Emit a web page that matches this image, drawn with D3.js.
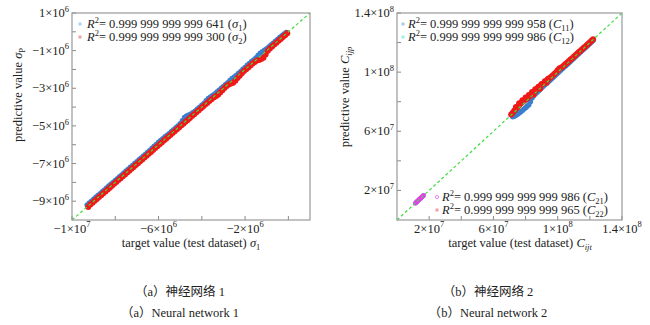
<!DOCTYPE html>
<html><head><meta charset="utf-8">
<script src="https://cdn.jsdelivr.net/npm/d3@7"></script>
<style>body{margin:0;background:#fff}svg{display:block}</style>
</head><body>
<script>
// ---------- DATA (all values in units of 1e6) ----------
const sigma1Target = [-9.3,-9.2,-9.1,-9.0,-8.9,-8.8,-8.7,-8.6,-8.5,-8.4,-8.3,-8.2,-8.1,-8.0,-7.9,-7.8,-7.7,-7.6,-7.5,-7.4,-7.3,-7.2,-7.1,-7.0,-6.9,-6.8,-6.7,-6.6,-6.5,-6.4,-6.3,-6.2,-6.1,-6.0,-5.9,-5.8,-5.7,-5.6,-5.5,-5.4,-5.3,-5.2,-5.1,-5.0,-4.9,-4.8,-4.7,-4.6,-4.5,-4.4,-4.3,-4.2,-4.1,-4.0,-3.9,-3.8,-3.7,-3.6,-3.5,-3.4,-3.3,-3.2,-3.1,-3.0,-2.9,-2.8,-2.7,-2.6,-2.5,-2.4,-2.3,-2.2,-2.1,-2.0,-1.9,-1.8,-1.7,-1.6,-1.5,-1.4,-1.3,-1.2,-1.1,-1.0,-0.9,-0.8,-0.7,-0.6,-0.5,-0.4,-0.3,-0.2,-0.1];
const sigma1Pred   = [-9.2,-9.1,-9.0,-8.9,-8.79,-8.7,-8.6,-8.5,-8.4,-8.3,-8.19,-8.1,-8.0,-7.9,-7.8,-7.7,-7.61,-7.5,-7.4,-7.3,-7.2,-7.1,-7.0,-6.9,-6.8,-6.7,-6.6,-6.5,-6.4,-6.3,-6.19,-6.08,-5.98,-5.87,-5.77,-5.68,-5.58,-5.5,-5.4,-5.3,-5.2,-5.1,-5.0,-4.88,-4.72,-4.55,-4.47,-4.42,-4.36,-4.29,-4.2,-4.1,-4.0,-3.9,-3.8,-3.66,-3.54,-3.46,-3.38,-3.3,-3.2,-3.1,-3.0,-2.9,-2.8,-2.7,-2.58,-2.48,-2.4,-2.3,-2.2,-2.1,-1.99,-1.89,-1.78,-1.68,-1.58,-1.49,-1.39,-1.26,-1.14,-1.06,-0.98,-0.9,-0.8,-0.7,-0.6,-0.5,-0.4,-0.3,-0.2,-0.11,-0.04];
const sigma2Target = [-9.25,-9.15,-9.05,-8.95,-8.85,-8.75,-8.65,-8.55,-8.45,-8.35,-8.25,-8.15,-8.05,-7.95,-7.85,-7.75,-7.65,-7.55,-7.45,-7.35,-7.25,-7.15,-7.05,-6.95,-6.85,-6.75,-6.65,-6.55,-6.45,-6.35,-6.25,-6.15,-6.05,-5.95,-5.85,-5.75,-5.65,-5.55,-5.45,-5.35,-5.25,-5.15,-5.05,-4.95,-4.85,-4.75,-4.65,-4.55,-4.45,-4.35,-4.25,-4.15,-4.05,-3.95,-3.85,-3.75,-3.65,-3.55,-3.45,-3.35,-3.25,-3.15,-3.05,-2.95,-2.85,-2.75,-2.65,-2.55,-2.45,-2.35,-2.25,-2.15,-2.05,-1.95,-1.85,-1.75,-1.65,-1.55,-1.45,-1.35,-1.25,-1.15,-1.05,-0.95,-0.85,-0.75,-0.65,-0.55,-0.45,-0.35,-0.25,-0.15,-0.05];
const sigma2Pred   = [-9.31,-9.18,-9.08,-8.98,-8.88,-8.78,-8.68,-8.58,-8.48,-8.38,-8.28,-8.18,-8.08,-7.98,-7.88,-7.78,-7.68,-7.58,-7.48,-7.38,-7.28,-7.18,-7.08,-6.98,-6.88,-6.78,-6.68,-6.58,-6.48,-6.38,-6.28,-6.18,-6.08,-5.98,-5.88,-5.78,-5.68,-5.58,-5.48,-5.38,-5.28,-5.18,-5.08,-4.98,-4.88,-4.78,-4.68,-4.58,-4.48,-4.38,-4.28,-4.18,-4.08,-3.98,-3.88,-3.78,-3.68,-3.58,-3.49,-3.42,-3.34,-3.23,-3.1,-2.98,-2.88,-2.8,-2.74,-2.7,-2.6,-2.46,-2.33,-2.2,-2.08,-1.99,-1.89,-1.79,-1.69,-1.6,-1.53,-1.5,-1.44,-1.38,-1.2,-1.0,-0.88,-0.78,-0.68,-0.58,-0.48,-0.38,-0.28,-0.18,-0.08];

const c11Target = [72,73,74,75,76,77,78,79,80,81,82,83,84,85,86,87,88,89,90,91,92,93,94,95,96,97,98,99,100,101,102,103,104,105,106,107,108,109,110,111,112,113,114,115,116,117,118,119,120,121,122];
const c11Pred   = [69.8,70.2,70.8,71.6,72.4,73.2,74,75,76,77,78,80,82.5,84,85.2,86.3,87.3,88.4,89.4,90.4,91.4,92.4,93.4,94.4,95.4,96.4,97.4,98.4,99.4,100.4,101.4,102.4,103.4,104.4,105.4,106.4,107.4,108.4,109.4,110.4,111.4,112.4,113.4,114.4,115.4,116.4,117.4,118.4,119.4,120.4,121.4];
const c12Target = [11.5,12,12.5,13,13.5,14,14.5,15,15.5,16,16.5];
const c12Pred   = [11.4,12,12.5,13,13.4,14,14.5,15,15.4,16,16.5];
const c21Target = [11.5,12,12.5,13,13.5,14,14.5,15,15.5,16,16.5];
const c21Pred   = [11.3,11.9,12.4,13,13.5,14.1,14.5,15.1,15.5,16,16.6];
const c22Target = [71,72,73,74,75,76,77,78,79,80,81,82,83,84,85,86,87,88,89,90,91,92,93,94,95,96,97,98,99,100,101,102,103,104,105,106,107,108,109,110,111,112,113,114,115,116,117,118,119,120,121,122,74,76,78,80,82,84,86,88,90,92,94,85,89,93];
const c22Pred   = [71.3,72.6,74,75.2,76.3,77.6,78.8,79.8,80.6,81.5,82.4,83.3,84.2,85.3,86.4,87.5,88.6,89.6,90.6,91.5,92.4,93.3,94.2,95.1,96,96.9,97.9,98.9,99.9,101.2,102.4,103,103.6,104.6,105.6,106.5,107.5,108.5,109.4,110.4,111.4,112.4,113.4,114.3,115.3,116.3,117.2,118.2,119.2,120.2,121.2,122.2,76.5,79,81,82.8,84.6,86.6,88.5,90.2,92,93.8,95.6,84.8,88.8,92.8];

// ticks (units of 1e6)
const leftXMajor = [-10,-6,-2];
const leftXLabels = [["−1","7"],["−6","6"],["−2","6"]];
const leftXMinor = [-8,-4,0];
const leftYMajor = [1,-1,-3,-5,-7,-9];
const leftYLabels = [["1","6"],["−1","6"],["−3","6"],["−5","6"],["−7","6"],["−9","6"]];
const leftYMinor = [0,-2,-4,-6,-8];
const rightMajor = [20,60,100,140];
const rightLabels = [["2","7"],["6","7"],["1","8"],["1.4","8"]];
const rightMinor = [40,80,120];

const legendLeft = [["641","σ","1"],["300","σ","2"]];
const legendRightTop = [["958","C","11"],["986","C","12"]];
const legendRightBottom = [["986","C","21"],["965","C","22"]];

// ---------- DRAW ----------
const W = 650, H = 325;
const FONT = "'Liberation Serif','Times New Roman',serif";
const CJK = "'Noto Sans CJK SC',sans-serif";
const svg = d3.select("body").append("svg").attr("width", W).attr("height", H)
  .style("font-family", FONT);

function rich(g, x, y, segs, size, anchor) {
  const t = g.append("text").attr("x", x).attr("y", y).attr("font-size", size)
    .attr("text-anchor", anchor || "start").attr("fill", "#222");
  let off = 0;
  segs.forEach(([s, kind]) => {
    const sp = t.append("tspan").text(s);
    let target = 0, fs = size;
    if (kind === "sup") { target = -size * 0.42; fs = size * 0.68; }
    if (kind === "sub" || kind === "isub") { target = size * 0.25; fs = size * 0.68; }
    sp.attr("dy", target - off).attr("font-size", fs);
    off = target;
    if (kind === "i" || kind === "isub") sp.attr("font-style", "italic");
    if (kind === "cjk") sp.attr("font-family", CJK);
  });
  return t;
}

function panel(o) {
  const g = svg.append("g");
  const x = d3.scaleLinear().domain(o.domain).range([o.left, o.right]);
  const y = d3.scaleLinear().domain(o.domain).range([o.bottom, o.top]);
  const tk = g.append("g").attr("stroke", "#888").attr("stroke-width", 1);
  o.xMajor.concat(o.xMinor).forEach(v => {
    tk.append("line").attr("x1", x(v)).attr("x2", x(v)).attr("y1", o.bottom).attr("y2", o.bottom - 4);
  });
  o.yMajor.concat(o.yMinor).forEach(v => {
    tk.append("line").attr("y1", y(v)).attr("y2", y(v)).attr("x1", o.left).attr("x2", o.left + 4);
  });
  o.series.forEach(s => {
    g.append("g").selectAll("circle").data(s.t.map((v, i) => [v, s.p[i]])).join("circle")
      .attr("cx", d => x(d[0])).attr("cy", d => y(d[1])).attr("r", s.r).attr("fill", s.color);
  });
  g.append("line").attr("x1", x(o.domain[0])).attr("y1", y(o.domain[0]))
    .attr("x2", x(o.domain[1])).attr("y2", y(o.domain[1]))
    .attr("stroke", "#3ddc3d").attr("stroke-width", 1.2).attr("stroke-dasharray", "3,2.5");
  g.append("rect").attr("x", o.left).attr("y", o.top).attr("width", o.right - o.left)
    .attr("height", o.bottom - o.top).attr("fill", "none").attr("stroke", "#999").attr("stroke-width", 1.2);
  o.xMajor.forEach((v, i) => {
    const [m, e] = o.xLabels[i];
    rich(g, x(v), o.bottom + 12.5, [[m + "×10", "n"], [e, "sup"]], 12.5, "middle");
  });
  o.yMajor.forEach((v, i) => {
    const [m, e] = o.yLabels[i];
    rich(g, o.left - 3, y(v) + 4, [[m + "×10", "n"], [e, "sup"]], 12.5, "end");
  });
  return {x, y, g};
}

panel({
  left: 72, right: 310, top: 13, bottom: 220, domain: [-10, 1],
  xMajor: leftXMajor, xLabels: leftXLabels, xMinor: leftXMinor,
  yMajor: leftYMajor, yLabels: leftYLabels, yMinor: leftYMinor,
  series: [
    {t: sigma1Target, p: sigma1Pred, color: "#3a7fcf", r: 2.7},
    {t: sigma2Target, p: sigma2Pred, color: "#f01818", r: 3.0}
  ]
});
panel({
  left: 397, right: 622, top: 13, bottom: 220, domain: [0, 140],
  xMajor: rightMajor, xLabels: rightLabels, xMinor: rightMinor,
  yMajor: rightMajor, yLabels: rightLabels, yMinor: rightMinor,
  series: [
    {t: c11Target, p: c11Pred, color: "#3a7fcf", r: 2.7},
    {t: c12Target, p: c12Pred, color: "#3fd6d6", r: 2.4},
    {t: c21Target, p: c21Pred, color: "#e83ee8", r: 2.4},
    {t: c22Target, p: c22Pred, color: "#f01818", r: 3.0}
  ]
});

function legend(items, mx, tx, y0, colors, shapes) {
  items.forEach((it, i) => {
    const yy = y0 + i * 13;
    if (shapes[i] === "ring") {
      svg.append("circle").attr("cx", mx).attr("cy", yy - 4).attr("r", 1.6)
        .attr("fill", "none").attr("stroke", colors[i]).attr("stroke-width", 0.9);
    } else {
      svg.append("rect").attr("x", mx - 1.5).attr("y", yy - 5.5).attr("width", 3).attr("height", 3)
        .attr("fill", colors[i]);
    }
    const [num, sym, sub] = it;
    rich(svg, tx, yy, [["R", "i"], ["2", "sup"], ["= 0.999 999 999 999 " + num + " (", "n"],
      [sym, "i"], [sub, "sub"], [")", "n"]], 12.5, "start");
  });
}
legend(legendLeft, 80, 87, 28, ["#a9d3f0", "#f4a0a0"], ["sq", "sq"]);
legend(legendRightTop, 403, 408, 28, ["#a9c9ea", "#9ef0ea"], ["sq", "sq"]);
legend(legendRightBottom, 437, 442, 201, ["#f070f0", "#f4a0a0"], ["ring", "sq"]);

rich(svg, 191, 247, [["target value (test dataset) ", "n"], ["σ", "i"], ["1", "sub"]], 12.5, "middle");
rich(svg, 520, 247, [["target value (test dataset) ", "n"], ["C", "i"], ["ijt", "isub"]], 12.5, "middle");
const yl = svg.append("g").attr("transform", "translate(22,95) rotate(-90)");
rich(yl, 0, 0, [["predictive value ", "n"], ["σ", "i"], ["P", "sub"]], 12.5, "middle");
const yr = svg.append("g").attr("transform", "translate(349,97) rotate(-90)");
rich(yr, 0, 0, [["predictive value ", "n"], ["C", "i"], ["ijp", "isub"]], 12.5, "middle");

// captions
const captions = [
  [[["（", "cjk"], ["a", "n"], ["）神经网络", "cjk"], [" 1", "n"]], 180, 296],
  [[["（", "cjk"], ["a", "n"], ["）", "cjk"], ["Neural network 1", "n"]], 180, 317],
  [[["（", "cjk"], ["b", "n"], ["）神经网络", "cjk"], [" 2", "n"]], 488, 296],
  [[["（", "cjk"], ["b", "n"], ["）", "cjk"], ["Neural network 2", "n"]], 488, 317]
];
captions.forEach(([segs, cx, cy]) => rich(svg, cx, cy, segs, 12.5, "middle"));
</script>
</body></html>
